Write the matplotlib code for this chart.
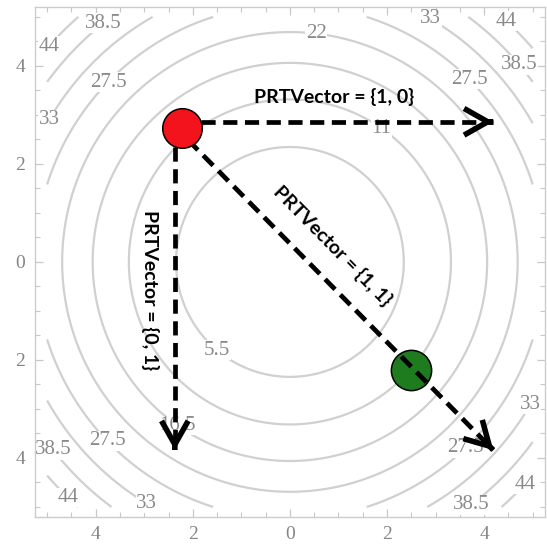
import numpy as np
import matplotlib
matplotlib.use("Agg")
import matplotlib.pyplot as plt
from matplotlib.ticker import MultipleLocator, FuncFormatter
from matplotlib.patches import FancyArrowPatch

# contour surface f(x, y) = x^2 + y^2 on [-5, 5]
levels = [5.5, 11, 16.5, 22, 27.5, 33, 38.5, 44]
grid = np.linspace(-5, 5, 401)

# where the contour labels sit (snapped to the nearest line)
label_pos = [(-1.53, -1.84), (1.86, 2.69), (-2.31, -3.33), (0.54, 4.63),
             (-3.75, 3.67), (3.67, 3.71), (-3.79, -3.67), (3.46, -3.63),
             (-4.96, 2.9), (2.89, 4.94), (-2.97, -4.96), (4.87, -2.86),
             (-3.86, 4.9), (4.72, 4.02), (-4.9, -3.85), (3.67, -4.86),
             (-5.0, 4.43), (4.45, 4.9), (-4.58, -4.82), (4.74, -4.45)]

# points and vectors
red_pt = (-2.23, 2.73)
green_pt = (2.49, -2.2)
vec_starts = [(-1.84, 2.86), (-2.37, 2.35), (-2.1, 2.49)]
vec_ends = [(4.19, 2.86), (-2.37, -3.84), (4.19, -3.84)]
vec_texts = ["PRTVector = {1, 0}", "PRTVector = {0, 1}", "PRTVector = {1, 1}"]
text_pos = [(0.91, 3.37), (-2.89, -0.57), (0.87, 0.33)]
text_rot = [0, -90, -45.5]

fig = plt.figure(figsize=(5.47, 5.48), dpi=100)
ax = fig.add_axes([0.064, 0.057, 0.932, 0.930])

X, Y = np.meshgrid(grid, grid)
Z = X**2 + Y**2
cs = ax.contour(X, Y, Z, levels=levels, colors="#d0d0d0", linewidths=1.6, zorder=1)
labels = ax.clabel(cs, inline=False, manual=label_pos, fmt=lambda v: f"{v:g}",
                   fontsize=15, colors="#8a8a8a")
for t in labels:
    t.set_rotation(0)
    t.set_family("Liberation Serif")
    t.set_bbox(dict(facecolor="white", edgecolor="none", pad=0.3))
    t.set_zorder(2)

# green point below the dashed lines, red point on top
ax.plot(*green_pt, "o", ms=29, mfc="#1e7b1e", mec="black", mew=1.1, zorder=3)

for (x0, y0), (x1, y1) in zip(vec_starts, vec_ends):
    ln, = ax.plot([x0, x1], [y0, y1], color="black", lw=3.4, zorder=4,
                  solid_capstyle="butt", dash_capstyle="butt")
    ln.set_dashes((3.0, 1.6))
    dx, dy = x1 - x0, y1 - y0
    n = np.hypot(dx, dy)
    head = FancyArrowPatch((x1 - 0.01 * dx / n, y1 - 0.01 * dy / n), (x1, y1),
                           arrowstyle="->, head_length=0.85, head_width=0.48",
                           mutation_scale=20, lw=4.0, color="black",
                           shrinkA=0, shrinkB=0, zorder=5, joinstyle="miter",
                           capstyle="butt")
    ax.add_patch(head)

ax.plot(*red_pt, "o", ms=28.5, mfc="#f2131d", mec="black", mew=1.1, zorder=6)

for s, (tx, ty), r in zip(vec_texts, text_pos, text_rot):
    ax.text(tx, ty, s, fontsize=14, fontweight="bold", family="Lato",
            ha="center", va="center", rotation=r, rotation_mode="anchor", zorder=7)

ax.set_xlim(-5.25, 5.25)
ax.set_ylim(-5.2, 5.2)
for sp in ax.spines.values():
    sp.set_color("#cccccc")
    sp.set_linewidth(1.0)
ax.xaxis.set_major_locator(MultipleLocator(2))
ax.yaxis.set_major_locator(MultipleLocator(2))
ax.xaxis.set_minor_locator(MultipleLocator(0.5))
ax.yaxis.set_minor_locator(MultipleLocator(0.5))
fmt = FuncFormatter(lambda v, p: f"{abs(v):g}")
ax.xaxis.set_major_formatter(fmt)
ax.yaxis.set_major_formatter(fmt)
ax.tick_params(which="both", direction="in", top=True, right=True,
               color="#c8c8c8", labelcolor="#858585", labelsize=14)
ax.tick_params(which="major", length=6, width=0.9, pad=7)
ax.tick_params(which="minor", length=3.5, width=0.8)
for lab in ax.get_xticklabels() + ax.get_yticklabels():
    lab.set_family("Liberation Serif")

fig.savefig("out.png", dpi=100, facecolor="white")
